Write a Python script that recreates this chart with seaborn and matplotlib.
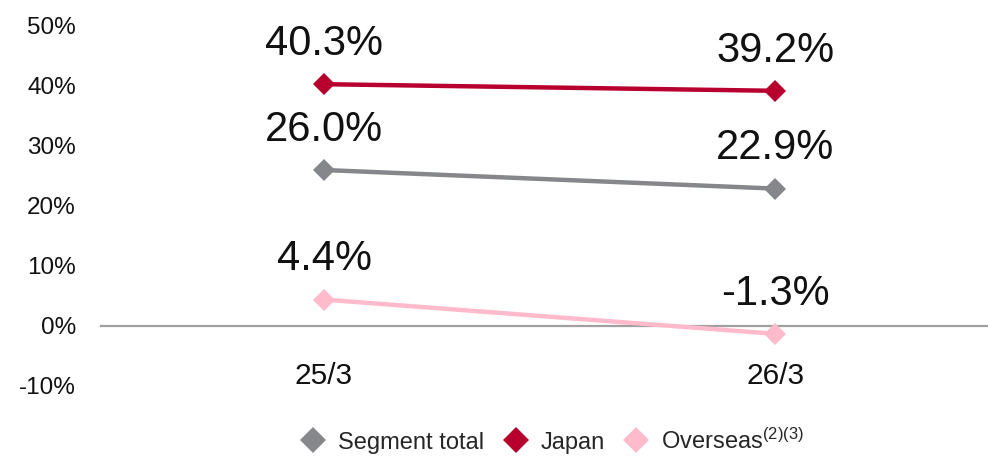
import matplotlib
matplotlib.use("Agg")
import matplotlib.pyplot as plt
from matplotlib.lines import Line2D
import seaborn as sns
import pandas as pd

# Periods and margin series (percent)
periods = ["25/3", "26/3"]
series_names = ["Segment total", "Japan", "Overseas"]
segment_total = [26.0, 22.9]
japan = [40.3, 39.2]
overseas = [4.4, -1.3]
y_ticks = [-10, 0, 10, 20, 30, 40, 50]

colors = {"Segment total": "#85878A", "Japan": "#B8002F", "Overseas": "#FFBACB"}
legend_labels = ["Segment total", "Japan", "Overseas$^{(2)(3)}$"]

rows = []
for name, vals in zip(series_names, [segment_total, japan, overseas]):
    for p, v in zip(periods, vals):
        rows.append({"period": p, "series": name, "value": v})
df = pd.DataFrame(rows)

sns.set_theme(style="white")
plt.rcParams["font.family"] = ["Liberation Sans", "DejaVu Sans"]
plt.rcParams["mathtext.fontset"] = "custom"
plt.rcParams["mathtext.rm"] = "Liberation Sans"
plt.rcParams["mathtext.it"] = "Liberation Sans"

W, H = 988, 457
fig = plt.figure(figsize=(W / 100, H / 100), dpi=100)
ax = fig.add_axes([101 / W, 1 - 386 / H, (988 - 101) / W, 360 / H])

sns.lineplot(
    data=df, x="period", y="value", hue="series", style="series",
    hue_order=series_names, style_order=series_names,
    palette=colors, markers={n: "D" for n in series_names}, dashes=False,
    linewidth=3.2, markersize=11.5, markeredgewidth=0, legend=False, ax=ax,
)

ax.set_xlim(-0.4945, 1.472)
ax.set_ylim(-10, 50)
ax.set_yticks(y_ticks)
ax.set_yticklabels([f"{t}%" for t in y_ticks])
ax.set_xticks(range(len(periods)))
ax.set_xticklabels(periods)
ax.set_xlabel("")
ax.set_ylabel("")

for s in ["top", "right", "left"]:
    ax.spines[s].set_visible(False)
ax.spines["bottom"].set_position(("data", 0))
ax.spines["bottom"].set_color("#A0A0A0")
ax.spines["bottom"].set_linewidth(1.6)
ax.spines["bottom"].set_zorder(0)

ax.tick_params(axis="y", length=0, pad=18, labelsize=17.5, labelcolor="#111111")
ax.tick_params(axis="x", length=0, pad=26, labelsize=21.5, labelcolor="#111111")

# Value labels above each point
for name, vals in zip(series_names, [segment_total, japan, overseas]):
    for i, v in enumerate(vals):
        ax.annotate(f"{v:.1f}%", xy=(i, v), xytext=(0, 21), textcoords="offset points",
                    ha="center", va="baseline", fontsize=30, color="#111111")

handles = [Line2D([], [], marker="D", ls="none", color=colors[n], markersize=13,
                  markeredgewidth=0) for n in series_names]
fig.legend(handles, legend_labels, loc="center", bbox_to_anchor=(0.558, 1 - 441 / H),
           ncol=3, frameon=False, fontsize=17, handletextpad=0.45, columnspacing=0.75,
           handlelength=1.2, borderpad=0, borderaxespad=0)

fig.savefig("out.png", dpi=100)
